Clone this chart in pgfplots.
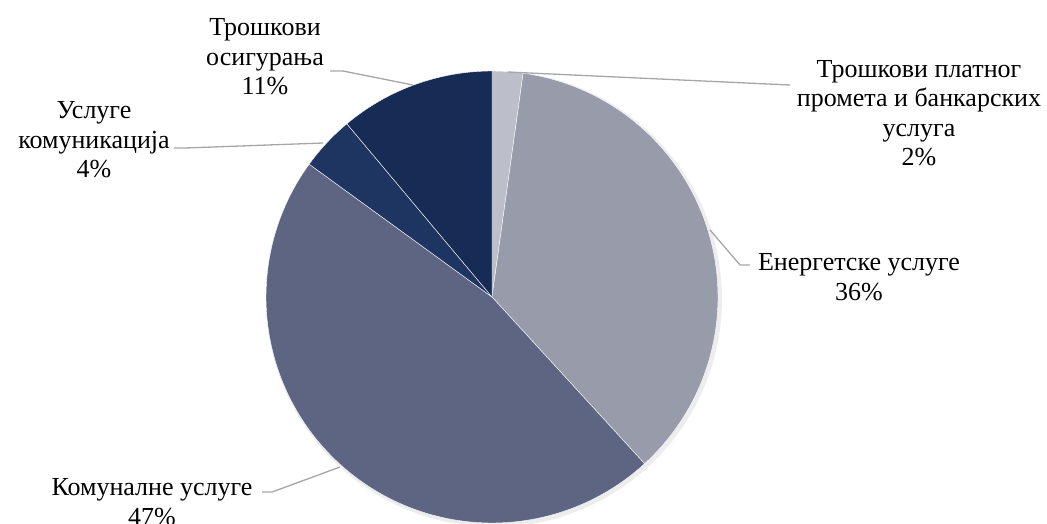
\documentclass[border=0pt]{standalone}
\usepackage{pgfplots}
\pgfplotsset{compat=1.18}
\usepackage{fontspec}
\setmainfont{Liberation Serif}
\definecolor{cA}{HTML}{BCBFCA}
\definecolor{cB}{HTML}{979BAA}
\definecolor{cC}{HTML}{5D6582}
\definecolor{cD}{HTML}{1E3461}
\definecolor{cE}{HTML}{172C55}
\definecolor{lead}{HTML}{A6A6A6}
\tikzset{lbl/.style={font=\fontsize{26}{29.5}\selectfont, align=center, text=black, inner sep=0pt}}
% shares in percent (clockwise from 12 o'clock)
\def\pA{2.2}  % Трошкови платног промета и банкарских услуга
\def\pB{36.0} % Енергетске услуге
\def\pC{46.8} % Комуналне услуге
\def\pD{3.9}  % Услуге комуникација
\def\pE{11.1} % Трошкови осигурања
\pgfmathsetmacro{\aA}{0}
\pgfmathsetmacro{\aB}{\aA+3.6*\pA}
\pgfmathsetmacro{\aC}{\aB+3.6*\pB}
\pgfmathsetmacro{\aD}{\aC+3.6*\pC}
\pgfmathsetmacro{\aE}{\aD+3.6*\pD}
\pgfmathsetmacro{\aF}{\aE+3.6*\pE}
\def\cx{492}
\def\cy{297}
\def\rr{226}
\begin{document}
\begin{tikzpicture}
\begin{axis}[
  at={(0,0)}, anchor=south west,
  width=1047pt, height=523pt, scale only axis,
  xmin=0, xmax=1047, ymin=0, ymax=523, y dir=reverse,
  hide axis, clip=false,
  every axis plot/.append style={line join=round},
]
% faint shadow
\addplot[draw=none, fill=black, fill opacity=0.07, domain=0:360, samples=120, variable=\t]
  ({\cx+2+(\rr+2)*sin(t)},{\cy+2-(\rr+2)*cos(t)}) -- cycle;
% slices
\addplot[fill=cA, draw=white, line width=0.4pt, domain=\aA:\aB, samples=20, variable=\t]
  ({\cx+\rr*sin(t)},{\cy-\rr*cos(t)}) -- (axis cs:\cx,\cy) -- cycle;
\addplot[fill=cB, draw=white, line width=0.4pt, domain=\aB:\aC, samples=90, variable=\t]
  ({\cx+\rr*sin(t)},{\cy-\rr*cos(t)}) -- (axis cs:\cx,\cy) -- cycle;
\addplot[fill=cC, draw=white, line width=0.4pt, domain=\aC:\aD, samples=110, variable=\t]
  ({\cx+\rr*sin(t)},{\cy-\rr*cos(t)}) -- (axis cs:\cx,\cy) -- cycle;
\addplot[fill=cD, draw=white, line width=0.4pt, domain=\aD:\aE, samples=20, variable=\t]
  ({\cx+\rr*sin(t)},{\cy-\rr*cos(t)}) -- (axis cs:\cx,\cy) -- cycle;
\addplot[fill=cE, draw=white, line width=0.4pt, domain=\aE:\aF, samples=40, variable=\t]
  ({\cx+\rr*sin(t)},{\cy-\rr*cos(t)}) -- (axis cs:\cx,\cy) -- cycle;
% leader lines
\addplot[lead, line width=1.3pt, mark=none] coordinates {(508,72) (790,85)};
\addplot[lead, line width=1.3pt, mark=none] coordinates {(710,230) (740,265) (750,265)};
\addplot[lead, line width=1.3pt, mark=none] coordinates {(340,467) (272,492) (262,492)};
\addplot[lead, line width=1.3pt, mark=none] coordinates {(323,143) (185,148) (174,148)};
\addplot[lead, line width=1.3pt, mark=none] coordinates {(413,85) (343,71) (330,71)};
% labels
\node[lbl] at (axis cs:919,113) {Трошкови платног\\промета и банкарских\\услуга\\2\%};
\node[lbl] at (axis cs:859,277) {Енергетске услуге\\36\%};
\node[lbl] at (axis cs:152,502) {Комуналне услуге\\47\%};
\node[lbl] at (axis cs:94,140) {Услуге\\комуникација\\4\%};
\node[lbl] at (axis cs:265,57) {Трошкови\\осигурања\\11\%};
\end{axis}
\pgfresetboundingbox
\path (0,0) rectangle (1047pt,523pt);
\end{tikzpicture}
\end{document}
